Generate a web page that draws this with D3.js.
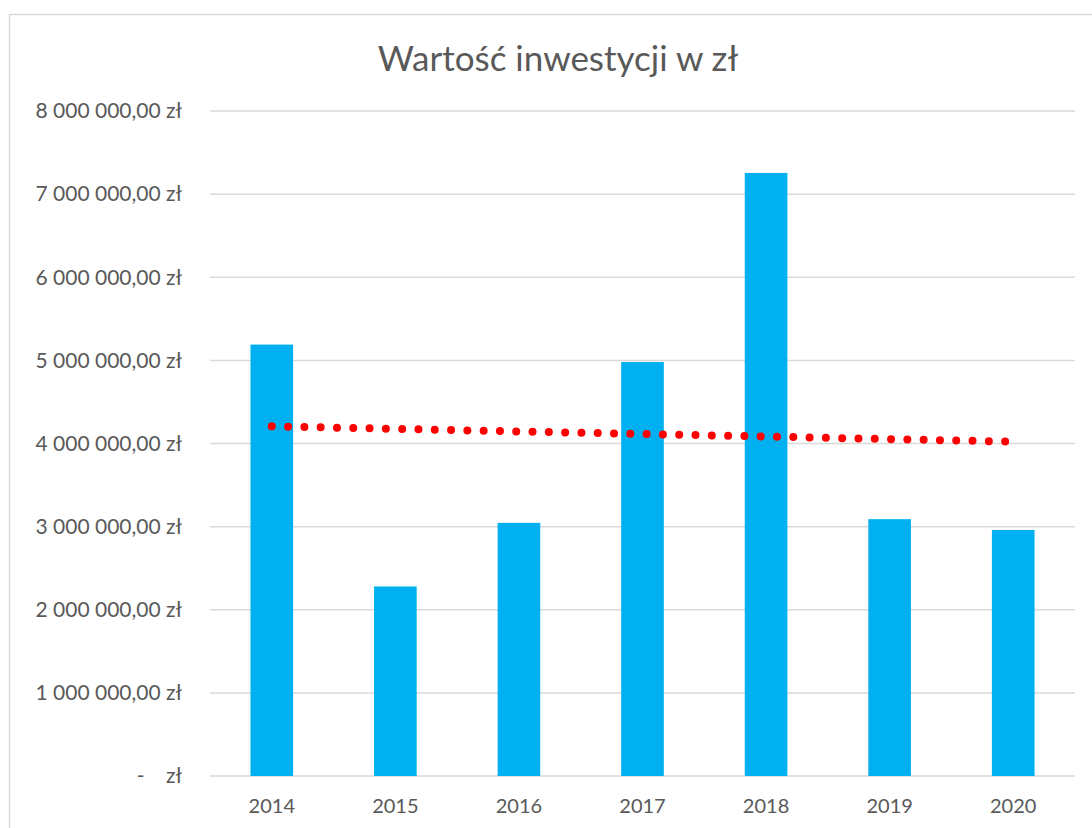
<!DOCTYPE html>
<html>
<head>
<meta charset="utf-8">
<script src="https://cdn.jsdelivr.net/npm/d3@7"></script>
<style>
  body { margin: 0; background: #fff; }
  text { font-family: Lato, "Open Sans", sans-serif; fill: #595959; }
</style>
</head>
<body>
<div id="chart"></div>
<script>
const years = ["2014", "2015", "2016", "2017", "2018", "2019", "2020"];
const values = [5190000, 2280000, 3045000, 4980000, 7255000, 3090000, 2960000];
const yTicks = [0, 1000000, 2000000, 3000000, 4000000, 5000000, 6000000, 7000000, 8000000];
const title = "Wartość inwestycji w zł";

const width = 1092, height = 828;
const margin = {left: 210, right: 17, top: 111, bottom: 52};

const svg = d3.select("#chart").append("svg")
  .attr("width", width)
  .attr("height", height);

// chart frame
svg.append("rect")
  .attr("x", 9.5).attr("y", 14.5)
  .attr("width", width).attr("height", height)
  .attr("fill", "none")
  .attr("stroke", "#d9d9d9")
  .attr("stroke-width", 1.5);

const x = d3.scaleBand()
  .domain(years)
  .range([margin.left, width - margin.right])
  .paddingInner(0.655)
  .paddingOuter(0.3275);

const y = d3.scaleLinear()
  .domain([0, 8000000])
  .range([height - margin.bottom, margin.top]);

// gridlines
svg.append("g")
  .selectAll("line")
  .data(yTicks)
  .enter().append("line")
  .attr("x1", margin.left)
  .attr("x2", width - margin.right)
  .attr("y1", d => y(d))
  .attr("y2", d => y(d))
  .attr("stroke", "#d9d9d9")
  .attr("stroke-width", 1.5);

// y labels
const fmt = d => {
  if (d === 0) return "-\u00a0\u00a0\u00a0\u00a0zł";
  const s = d3.format(",.2f")(d).replace(/,/g, " ").replace(".", ",");
  return s + " zł";
};
svg.append("g")
  .selectAll("text")
  .data(yTicks)
  .enter().append("text")
  .attr("x", 182)
  .attr("y", d => y(d))
  .attr("dy", "0.35em")
  .attr("text-anchor", "end")
  .attr("font-size", "21px")
  .text(fmt);

// bars
svg.append("g")
  .selectAll("rect")
  .data(values)
  .enter().append("rect")
  .attr("x", (d, i) => x(years[i]))
  .attr("y", d => y(d))
  .attr("width", x.bandwidth())
  .attr("height", d => y(0) - y(d))
  .attr("fill", "#00b0f0");

// x labels
svg.append("g")
  .selectAll("text")
  .data(years)
  .enter().append("text")
  .attr("x", d => x(d) + x.bandwidth() / 2)
  .attr("y", 813)
  .attr("text-anchor", "middle")
  .attr("font-size", "20px")
  .text(d => d);

// linear trendline (least squares over the values)
const n = values.length;
const xs = d3.range(n);
const mx = d3.mean(xs), my = d3.mean(values);
const slope = d3.sum(xs, i => (i - mx) * (values[i] - my)) / d3.sum(xs, i => (i - mx) ** 2);
const icpt = my - slope * mx;
const trend = [0, n - 1].map(i => [x(years[i]) + x.bandwidth() / 2, y(icpt + slope * i)]);

svg.append("path")
  .attr("d", d3.line()(trend))
  .attr("fill", "none")
  .attr("stroke", "#ff0000")
  .attr("stroke-width", 8)
  .attr("stroke-linecap", "round")
  .attr("stroke-dasharray", "0 16.3");

// title
svg.append("text")
  .attr("x", 558)
  .attr("y", 71)
  .attr("text-anchor", "middle")
  .attr("font-size", "35px")
  .text(title);
</script>
</body>
</html>
